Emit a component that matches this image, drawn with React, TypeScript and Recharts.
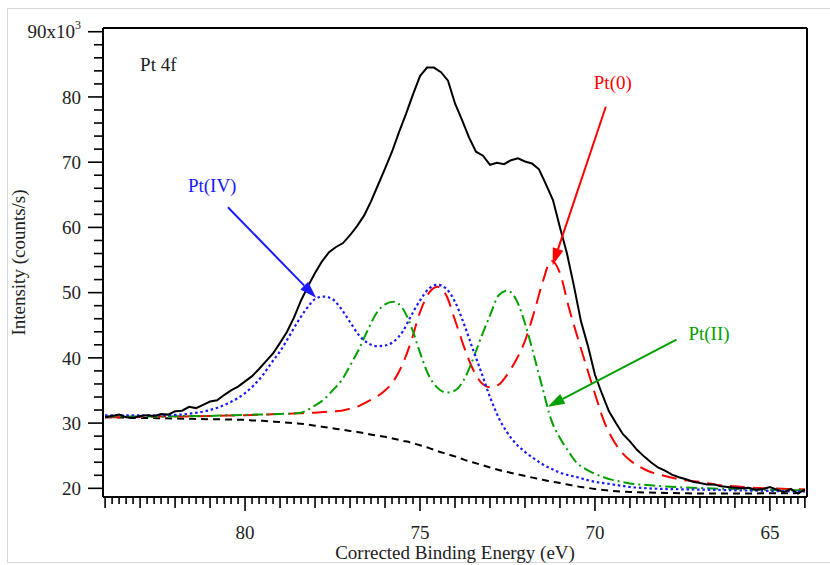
import { LineChart, Line, XAxis, YAxis, ReferenceLine, ReferenceDot } from 'recharts'

// Pt 4f XPS region: raw scan, Shirley background and the three fitted doublets.
// Energies in eV (binding energy), intensities in 10^3 counts/s.

const fitEnergy = [
  84, 83.5, 83, 82.5, 82, 81.5, 81, 80.5,
  80, 79.75, 79.5, 79.25, 79, 78.75, 78.5, 78.25, 78,
  77.75, 77.5, 77.25, 77, 76.75, 76.5, 76.25, 76,
  75.75, 75.5, 75.25, 75, 74.75, 74.5, 74.25, 74,
  73.75, 73.5, 73.25, 73, 72.75, 72.5, 72.25, 72,
  71.75, 71.5, 71.25, 71, 70.75, 70.5, 70.25, 70,
  69.75, 69.5, 69.25, 69, 68.75, 68.5,
  68, 67.5, 67, 66.5, 66, 65.5, 65, 64.5, 64,
]

const background = [
  30.9, 30.85, 30.8, 30.75, 30.7, 30.65, 30.6, 30.55,
  30.5, 30.4, 30.35, 30.25, 30.15, 30.05, 29.95, 29.8, 29.6,
  29.4, 29.2, 29.0, 28.8, 28.6, 28.35, 28.1, 27.9,
  27.6, 27.3, 27.0, 26.6, 26.2, 25.7, 25.3, 24.9,
  24.4, 24.0, 23.6, 23.2, 22.8, 22.5, 22.2, 21.9,
  21.6, 21.3, 21.05, 20.8, 20.55, 20.3, 20.1, 19.9,
  19.75, 19.6, 19.5, 19.45, 19.4, 19.35,
  19.3, 19.25, 19.2, 19.2, 19.2, 19.2, 19.25, 19.25, 19.3,
]

const ptIV = [
  31.2, 31.2, 31.2, 31.2, 31.25, 31.5, 32.0, 33.0,
  34.6, 35.8, 37.3, 39.2, 41.0, 43.2, 45.5, 47.5, 49.0,
  49.4, 49.0, 47.5, 45.5, 43.5, 42.3, 41.8, 41.9,
  42.5, 44.0, 46.5, 48.8, 50.6, 51.2, 50.6, 48.6,
  45.3, 41.5, 37.8, 34.0, 30.8, 28.5, 26.8, 25.6,
  24.6, 23.7, 23.0, 22.4, 22.0, 21.7, 21.3, 21.0,
  20.8, 20.6, 20.4, 20.2, 20.1, 20.0,
  19.9, 19.85, 19.8, 19.75, 19.7, 19.65, 19.6, 19.55, 19.5,
]

const ptII = [
  31.0, 31.0, 31.0, 31.0, 31.05, 31.1, 31.1, 31.2,
  31.25, 31.3, 31.3, 31.35, 31.4, 31.45, 31.5, 31.9, 32.7,
  33.6, 35.0, 36.5, 38.8, 41.3, 44.2, 46.8, 48.2,
  48.6, 47.6, 44.8, 40.8, 37.3, 35.4, 34.7, 35.0,
  36.6, 39.6, 43.2, 46.5, 49.6, 50.3, 48.9, 45.3,
  40.5, 35.4, 30.5, 27.7, 25.6, 23.8, 22.9, 22.2,
  21.7, 21.3, 21.0, 20.75, 20.6, 20.5,
  20.3, 20.15, 20.05, 19.95, 19.9, 19.8, 19.75, 19.7, 19.7,
]

const pt0 = [
  30.9, 30.9, 30.95, 31.0, 31.0, 31.05, 31.1, 31.15,
  31.2, 31.25, 31.3, 31.35, 31.4, 31.45, 31.5, 31.55, 31.6,
  31.7, 31.8, 31.9, 32.2, 32.6, 33.3, 34.0, 35.0,
  36.5, 39.0, 42.6, 47.0, 49.9, 50.9, 49.6, 45.8,
  41.8, 38.4, 36.2, 35.5, 35.9, 37.5, 39.7, 42.6,
  46.8, 51.5, 54.9, 53.0, 47.8, 43.2, 38.8, 34.5,
  30.4, 27.6, 25.6, 24.3, 23.4, 22.7,
  21.9, 21.3, 21.0, 20.5, 20.3, 20.1, 20.0, 19.9, 19.85,
]

const scanEnergy = [
  84.0, 83.8, 83.6, 83.4, 83.2, 83.0, 82.8, 82.6, 82.4, 82.2,
  82.0, 81.8, 81.6, 81.4, 81.2, 81.0, 80.8, 80.6, 80.4, 80.2,
  80.0, 79.8, 79.6, 79.4, 79.2, 79.0, 78.8, 78.6, 78.4, 78.2,
  78.0, 77.8, 77.6, 77.4, 77.2, 77.0, 76.8, 76.6, 76.4, 76.2,
  76.0, 75.8, 75.6, 75.4, 75.2, 75.0, 74.8, 74.6, 74.4, 74.2,
  74.0, 73.8, 73.6, 73.4, 73.2, 73.0, 72.8, 72.6, 72.4, 72.2,
  72.0, 71.8, 71.6, 71.4, 71.2, 71.0, 70.8, 70.6, 70.4, 70.2,
  70.0, 69.8, 69.6, 69.4, 69.2, 69.0, 68.8, 68.6, 68.4, 68.2,
  68.0, 67.8, 67.6, 67.4, 67.2, 67.0, 66.8, 66.6, 66.4, 66.2,
  66.0, 65.8, 65.6, 65.4, 65.2, 65.0, 64.8, 64.6, 64.4, 64.2,
  64.0,
]

const scanCounts = [
  30.9, 31.1, 31.3, 30.9, 30.8, 31.1, 31.2, 31.1, 31.4, 31.3,
  31.8, 31.9, 32.5, 32.3, 32.8, 33.3, 33.5, 34.3, 35.0, 35.6,
  36.4, 37.2, 38.3, 39.5, 40.7, 42.3, 44.0, 46.2, 48.8, 51.0,
  53.0, 54.8, 56.2, 57.0, 57.6, 58.8, 60.2, 61.8, 64.0, 66.5,
  69.0, 71.6, 74.6, 77.4, 80.4, 83.2, 84.5, 84.5, 83.8, 82.5,
  79.0, 76.5, 73.8, 71.6, 71.0, 69.6, 69.9, 69.7, 70.3, 70.6,
  70.1, 69.8, 68.9, 66.6, 64.2, 60.0, 56.0, 51.0, 45.6, 41.8,
  37.4, 34.5, 31.8, 30.0, 28.3, 27.2, 25.9, 24.9, 24.0, 23.2,
  22.7, 22.1, 21.7, 21.4, 21.0, 20.8, 20.6, 20.6, 20.3, 20.2,
  20.1, 20.0, 20.1, 19.8, 19.9, 20.2, 19.8, 19.4, 19.9, 19.2,
  19.8,
]

const ENERGY_DOMAIN: [number, number] = [63.94, 84.06]
const COUNT_DOMAIN: [number, number] = [18.67, 90.57]

// minor ticks every 0.2 eV, every 2 kcounts
const energyTicks = Array.from({ length: 101 }, (_, i) => Math.round((64 + i * 0.2) * 10) / 10)
const countTicks = Array.from({ length: 36 }, (_, i) => 20 + i * 2)

const FONT = "'Liberation Serif', 'Times New Roman', serif"
const TEXT = '#222'

const callouts = [
  { name: 'Pt(IV)', color: '#1a1aff', text: [80.94, 65.4], from: [80.49, 63.1], to: [77.97, 49.2] },
  { name: 'Pt(0)', color: '#ff0000', text: [69.49, 81.2], from: [69.69, 78.5], to: [71.21, 54.2] },
  { name: 'Pt(II)', color: '#00a000', text: [66.74, 42.7], from: [67.67, 42.8], to: [71.35, 32.5] },
]

const toPoints = (xs: number[], ys: number[]) => xs.map((e, i) => ({ e, v: ys[i] }))

function EnergyTick({ x, y, payload }: any) {
  const v = Math.round(payload.value * 10) / 10
  const major = Math.abs(v / 5 - Math.round(v / 5)) < 1e-6
  const whole = Math.abs(v - Math.round(v)) < 1e-6
  const len = major ? 14 : whole ? 11 : 7
  return (
    <g>
      <line x1={x} x2={x} y1={y} y2={y + len} stroke="#000" strokeWidth={1.6} />
      {major && (
        <text x={x} y={y + 42} textAnchor="middle" fontFamily={FONT} fontSize={19} fill={TEXT}>
          {v}
        </text>
      )}
    </g>
  )
}

function CountTick({ x, y, payload }: any) {
  const v = payload.value
  const major = v % 10 === 0
  const len = major ? 15 : 9
  return (
    <g>
      <line x1={x - len} x2={x} y1={y} y2={y} stroke="#000" strokeWidth={1.6} />
      {major && (
        <text x={x - 22} y={y} dy="0.35em" textAnchor="end" fontFamily={FONT} fontSize={19} fill={TEXT}>
          {v === 90 ? (
            <>
              90x10<tspan dy={-9} fontSize={12}>3</tspan>
            </>
          ) : (
            v
          )}
        </text>
      )}
    </g>
  )
}

function Arrow({ x1, y1, x2, y2, color }: any) {
  const dx = x2 - x1
  const dy = y2 - y1
  const len = Math.hypot(dx, dy)
  const ux = dx / len
  const uy = dy / len
  const head = 17
  const half = 5.5
  const bx = x2 - ux * head
  const by = y2 - uy * head
  return (
    <g>
      <line x1={x1} y1={y1} x2={bx} y2={by} stroke={color} strokeWidth={2} />
      <polygon
        points={`${x2},${y2} ${bx - uy * half},${by + ux * half} ${bx + uy * half},${by - ux * half}`}
        fill={color}
      />
    </g>
  )
}

export default function App() {
  return (
    <div style={{ position: 'absolute', left: 0, top: 0, width: 830, height: 565, background: '#fff' }}>
      <div
        style={{
          position: 'absolute',
          left: 7,
          top: 8,
          width: 830,
          height: 555,
          borderTop: '1px solid #d8d8d8',
          borderLeft: '1px solid #d8d8d8',
          borderBottom: '1px solid #d8d8d8',
          boxSizing: 'border-box',
        }}
      />
      <LineChart
        width={830}
        height={565}
        margin={{ top: 27, right: 22, bottom: 67, left: 102 }}
        style={{ position: 'absolute', left: 0, top: 0 }}
      >
        <XAxis
          type="number"
          dataKey="e"
          domain={ENERGY_DOMAIN}
          allowDataOverflow
          reversed
          ticks={energyTicks}
          interval={0}
          tickSize={0}
          tickMargin={0}
          tickLine={false}
          tick={<EnergyTick />}
          height={1}
          axisLine={{ stroke: '#000', strokeWidth: 2 }}
          label={{
            content: ({ viewBox }: any) => (
              <text
                x={viewBox.x + viewBox.width / 2}
                y={viewBox.y + 62}
                textAnchor="middle"
                fontFamily={FONT}
                fontSize={19}
                fill={TEXT}
              >
                Corrected Binding Energy (eV)
              </text>
            ),
          }}
        />
        <XAxis
          xAxisId="top"
          orientation="top"
          type="number"
          domain={ENERGY_DOMAIN}
          allowDataOverflow
          reversed
          tick={false}
          tickLine={false}
          height={1}
          axisLine={{ stroke: '#000', strokeWidth: 2 }}
        />
        <YAxis
          type="number"
          domain={COUNT_DOMAIN}
          allowDataOverflow
          ticks={countTicks}
          interval={0}
          tickSize={0}
          tickMargin={0}
          tickLine={false}
          tick={<CountTick />}
          width={1}
          axisLine={{ stroke: '#000', strokeWidth: 2 }}
          label={{
            content: ({ viewBox }: any) => {
              const cx = viewBox.x - 84
              const cy = viewBox.y + viewBox.height / 2
              return (
                <text
                  x={cx}
                  y={cy}
                  transform={`rotate(-90, ${cx}, ${cy})`}
                  textAnchor="middle"
                  dominantBaseline="central"
                  fontFamily={FONT}
                  fontSize={19}
                  fill={TEXT}
                >
                  Intensity (counts/s)
                </text>
              )
            },
          }}
        />
        <YAxis
          yAxisId="right"
          orientation="right"
          type="number"
          domain={COUNT_DOMAIN}
          allowDataOverflow
          tick={false}
          tickLine={false}
          width={1}
          axisLine={{ stroke: '#000', strokeWidth: 2 }}
        />

        <Line
          data={toPoints(fitEnergy, background)}
          dataKey="v"
          type="monotone"
          stroke="#000"
          strokeWidth={2}
          strokeDasharray="7 5"
          dot={false}
          activeDot={false}
          isAnimationActive={false}
        />
        <Line
          data={toPoints(fitEnergy, pt0)}
          dataKey="v"
          type="monotone"
          stroke="#ff0000"
          strokeWidth={2}
          strokeDasharray="15 8"
          dot={false}
          activeDot={false}
          isAnimationActive={false}
        />
        <Line
          data={toPoints(fitEnergy, ptII)}
          dataKey="v"
          type="monotone"
          stroke="#00a000"
          strokeWidth={2}
          strokeDasharray="11 4 2 4"
          dot={false}
          activeDot={false}
          isAnimationActive={false}
        />
        <Line
          data={toPoints(fitEnergy, ptIV)}
          dataKey="v"
          type="monotone"
          stroke="#1a1aff"
          strokeWidth={2.2}
          strokeDasharray="2.5 2.8"
          dot={false}
          activeDot={false}
          isAnimationActive={false}
        />
        <Line
          data={toPoints(scanEnergy, scanCounts)}
          dataKey="v"
          type="linear"
          stroke="#000"
          strokeWidth={2}
          dot={false}
          activeDot={false}
          isAnimationActive={false}
        />

        <ReferenceDot
          x={83.0}
          y={83.97}
          r={0}
          shape={(p: any) => (
            <text x={p.cx} y={p.cy} fontFamily={FONT} fontSize={19} fill={TEXT}>
              Pt 4f
            </text>
          )}
        />
        {callouts.map((c) => (
          <ReferenceLine
            key={c.name + '-arrow'}
            segment={[
              { x: c.from[0], y: c.from[1] },
              { x: c.to[0], y: c.to[1] },
            ]}
            shape={(p: any) => <Arrow {...p} color={c.color} />}
          />
        ))}
        {callouts.map((c) => (
          <ReferenceDot
            key={c.name}
            x={c.text[0]}
            y={c.text[1]}
            r={0}
            shape={(p: any) => (
              <text x={p.cx} y={p.cy} textAnchor="middle" fontFamily={FONT} fontSize={19} fill={c.color}>
                {c.name}
              </text>
            )}
          />
        ))}
      </LineChart>
    </div>
  )
}
